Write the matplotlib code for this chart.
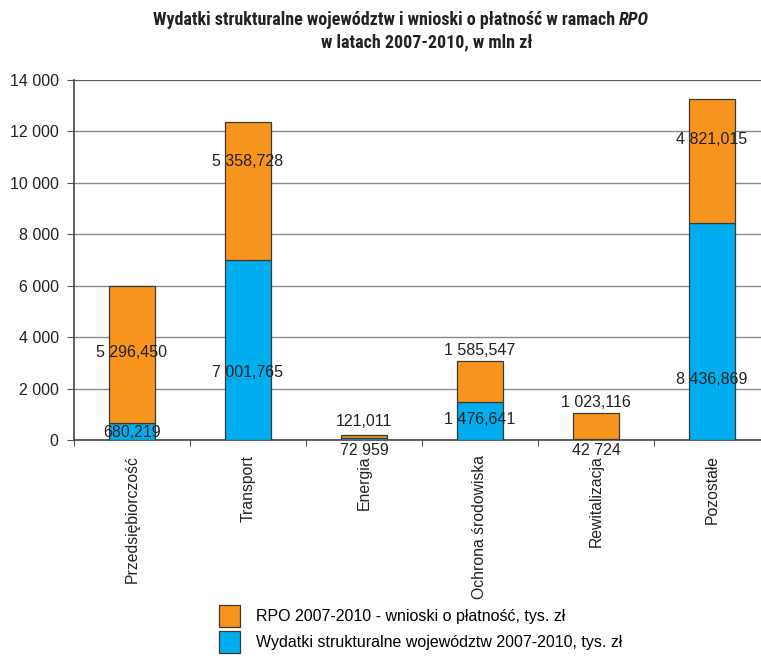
import matplotlib
matplotlib.use("Agg")
import matplotlib.pyplot as plt
from matplotlib import font_manager
from matplotlib.patches import Patch

flist = font_manager.fontManager.ttflist
names = {f.name for f in flist}
narrow = None
narrow_stretch = "normal"
for cand in ["Liberation Sans Narrow", "Arial Narrow", "Roboto Condensed", "Open Sans Condensed",
             "Noto Sans Condensed", "DejaVu Sans Condensed"]:
    if cand in names:
        narrow = cand
        break
if narrow is None:
    for f in flist:
        if f.name in ("Noto Sans", "DejaVu Sans", "Roboto", "Open Sans", "Inter") and f.stretch in ("condensed", "semi-condensed", 500, 400) and f.weight in ("bold", 700):
            if f.stretch in ("condensed", "semi-condensed"):
                narrow = f.name
                narrow_stretch = f.stretch
                break
title_size = 13
if narrow is None:
    narrow = "Liberation Sans"
    title_size = 10.9
base = "Liberation Sans"
plt.rcParams['font.family'] = [base, 'DejaVu Sans']

categories = ["Przedsiębiorczość", "Transport", "Energia", "Ochrona środowiska",
              "Rewitalizacja", "Pozostałe"]
wydatki = [680.219, 7001.765, 72.959, 1476.641, 42.724, 8436.869]
rpo = [5296.450, 5358.728, 121.011, 1585.547, 1023.116, 4821.015]
wydatki_labels = ["680,219", "7 001,765", "72 959", "1 476,641", "42 724", "8 436,869"]
rpo_labels = ["5 296,450", "5 358,728", "121,011", "1 585,547", "1 023,116", "4 821,015"]
yticks = [0, 2000, 4000, 6000, 8000, 10000, 12000, 14000]
ytick_labels = ["0", "2 000", "4 000", "6 000", "8 000", "10 000", "12 000", "14 000"]
legend_labels = ["RPO 2007-2010 - wnioski o płatność, tys. zł",
                 "Wydatki strukturalne województw 2007-2010, tys. zł"]

# label positions (data units) - layout only
wyd_label_y = [311, 2606, -389, 778, -389, 2334]
rpo_label_y = [3384, 10812, 700, 3462, 1439, 11668]

ORANGE = "#F7941D"
BLUE = "#00AEEF"
EDGE = "#3a3a3a"
TXT = "#222222"

W, H = 761, 659
fig = plt.figure(figsize=(W / 100, H / 100), dpi=100)
ax = fig.add_axes([74 / W, 1 - 440 / H, (770 - 74) / W, 360 / H])

x = list(range(len(categories)))
bw = 0.405
ax.bar(x, wydatki, width=bw, color=BLUE, edgecolor=EDGE, linewidth=0.9, zorder=3)
ax.bar(x, rpo, bottom=wydatki, width=bw, color=ORANGE, edgecolor=EDGE, linewidth=0.9, zorder=3)

for i in x:
    ax.text(i, rpo_label_y[i], rpo_labels[i], ha="center", va="center", fontsize=11.5,
            color=TXT, zorder=4, clip_on=False)
    ax.text(i, wyd_label_y[i], wydatki_labels[i], ha="center", va="center", fontsize=11.5,
            color=TXT, zorder=4, clip_on=False)

ax.set_xlim(-0.5, len(categories) - 0.5)
ax.set_ylim(0, 14000)
ax.set_yticks(yticks)
ax.set_yticklabels(ytick_labels, fontsize=11.5, color=TXT)
ax.yaxis.grid(True, color="#8a8a8a", linewidth=1.0, zorder=0)
ax.set_axisbelow(True)
ax.axhline(14000, color="#555555", linewidth=1.2, zorder=1)

ax.set_xticks([i - 0.5 for i in x] + [len(categories) - 0.5])
ax.set_xticklabels([])
ax.tick_params(axis="x", length=4, width=0.8, color="#555555", direction="out")
ax.tick_params(axis="y", length=5, width=0.8, color="#555555", pad=6)
for i, c in enumerate(categories):
    ax.text(i, -0.042, c, transform=ax.get_xaxis_transform(), rotation=90,
            ha="center", va="top", fontsize=11.3, color=TXT)

for s in ["top", "right"]:
    ax.spines[s].set_visible(False)
ax.spines["left"].set_color("#444444")
ax.spines["bottom"].set_color("#444444")
ax.spines["left"].set_linewidth(1.2)
ax.spines["bottom"].set_linewidth(1.2)

# title
tfam = [narrow, 'DejaVu Sans']
t1 = fig.text(153 / W, 1 - 20 / H, "Wydatki strukturalne województw i wnioski o płatność w ramach ",
              ha="left", va="center", fontsize=title_size, fontweight="bold", family=tfam,
              fontstretch=narrow_stretch, color=TXT)
fig.canvas.draw()
bb = t1.get_window_extent()
fig.text(bb.x1 / W, 1 - 20 / H, "RPO", ha="left", va="center", fontsize=title_size, fontweight="bold",
         fontstyle="italic", family=tfam, fontstretch=narrow_stretch, color=TXT)
fig.text(427 / W, 1 - 42 / H, "w latach 2007-2010, w mln zł", ha="center", va="center",
         fontsize=title_size, fontweight="bold", family=tfam, fontstretch=narrow_stretch, color=TXT)

handles = [Patch(facecolor=ORANGE, edgecolor=EDGE, linewidth=0.9),
           Patch(facecolor=BLUE, edgecolor=EDGE, linewidth=0.9)]
fig.legend(handles, legend_labels, loc="upper left", bbox_to_anchor=(219 / W, 1 - 605 / H),
           frameon=False, fontsize=11.5, handlelength=1.3, handleheight=1.7,
           labelspacing=0.3, handletextpad=1.0, borderaxespad=0, borderpad=0)

fig.savefig("out.png", dpi=100)
